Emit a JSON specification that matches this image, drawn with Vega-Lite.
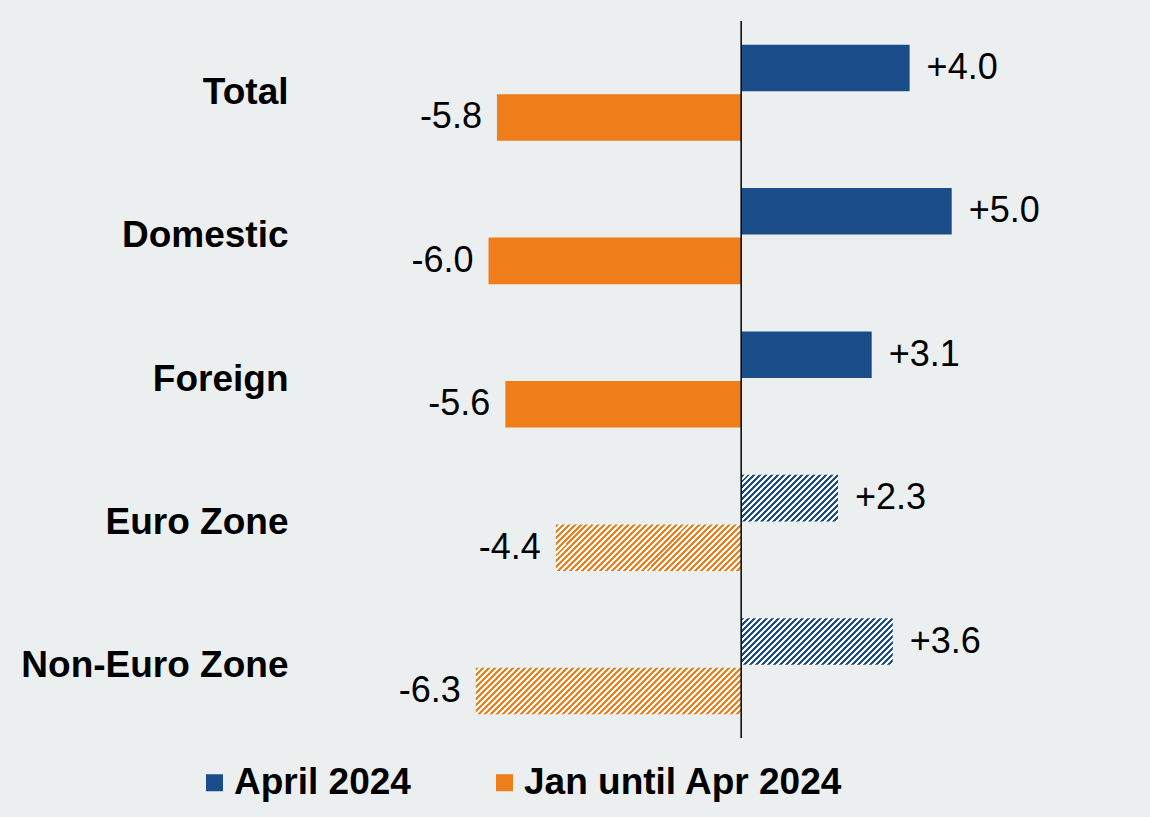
{
"$schema":"https://vega.github.io/schema/vega-lite/v6.json",
"width":758,"height":717,"autosize":"none",
"padding":{"left":299,"top":21,"right":93,"bottom":79},
"background":"#EBEFF0",
"config":{"view":{"stroke":null},"font":"Liberation Sans"},
"data":{"values":[
{"category":"Total","series":"April 2024","value":4.0,"label":"+4.0"},
{"category":"Total","series":"Jan until Apr 2024","value":-5.8,"label":"-5.8"},
{"category":"Domestic","series":"April 2024","value":5.0,"label":"+5.0"},
{"category":"Domestic","series":"Jan until Apr 2024","value":-6.0,"label":"-6.0"},
{"category":"Foreign","series":"April 2024","value":3.1,"label":"+3.1"},
{"category":"Foreign","series":"Jan until Apr 2024","value":-5.6,"label":"-5.6"},
{"category":"Euro Zone","series":"April 2024","value":2.3,"label":"+2.3"},
{"category":"Euro Zone","series":"Jan until Apr 2024","value":-4.4,"label":"-4.4"},
{"category":"Non-Euro Zone","series":"April 2024","value":3.6,"label":"+3.6"},
{"category":"Non-Euro Zone","series":"Jan until Apr 2024","value":-6.3,"label":"-6.3"}
]},
"layer":[
{"encoding":{
"y":{"field":"category","type":"nominal","sort":["Total","Domestic","Foreign","Euro Zone","Non-Euro Zone"],"scale":{"paddingInner":0.33,"paddingOuter":0.165},"axis":{"title":null,"ticks":false,"domain":false,"labelFontSize":37,"labelFontWeight":"bold","labelColor":"#000","labelFont":"Liberation Sans","labelPadding":11,"labelLimit":0}},
"yOffset":{"field":"series","type":"nominal","sort":["April 2024","Jan until Apr 2024"],"scale":{"paddingInner":0.06}},
"x":{"field":"value","type":"quantitative","scale":{"domain":[-10.5,7.5],"nice":false,"zero":false},"axis":null}
},
"layer":[
{"transform":[{"filter":"datum.category!=='Euro Zone' && datum.category!=='Non-Euro Zone'"}],
"mark":{"type":"bar"},
"encoding":{"color":{"field":"series","type":"nominal","scale":{"domain":["April 2024","Jan until Apr 2024"],"range":["#1a4d8a","#ef7d1a"]},
"legend":{"orient":"none","legendX":-103,"legendY":743,"direction":"horizontal","title":null,"symbolType":"square","symbolSize":289,"symbolStrokeWidth":0,"labelFontSize":37,"labelFontWeight":"bold","labelColor":"#000","labelFont":"Liberation Sans","labelOffset":1,"columnPadding":75,"labelLimit":0}}}},
{"transform":[{"filter":"datum.category==='Euro Zone' && datum.series==='April 2024'"}],
"mark":{"type":"bar","fill":{"gradient":"linear","x1":0,"y1":0,"x2":1.2028,"y2":0.5776,"stops":[
{"offset":0,"color":"#1a4d8a"},{"offset":0.0208,"color":"#1a4d8a"},{"offset":0.0208,"color":"#fff"},{"offset":0.0417,"color":"#fff"},
{"offset":0.0417,"color":"#1a4d8a"},{"offset":0.0625,"color":"#1a4d8a"},{"offset":0.0625,"color":"#fff"},{"offset":0.0833,"color":"#fff"},
{"offset":0.0833,"color":"#1a4d8a"},{"offset":0.1042,"color":"#1a4d8a"},{"offset":0.1042,"color":"#fff"},{"offset":0.125,"color":"#fff"},
{"offset":0.125,"color":"#1a4d8a"},{"offset":0.1458,"color":"#1a4d8a"},{"offset":0.1458,"color":"#fff"},{"offset":0.1667,"color":"#fff"},
{"offset":0.1667,"color":"#1a4d8a"},{"offset":0.1875,"color":"#1a4d8a"},{"offset":0.1875,"color":"#fff"},{"offset":0.2083,"color":"#fff"},
{"offset":0.2083,"color":"#1a4d8a"},{"offset":0.2292,"color":"#1a4d8a"},{"offset":0.2292,"color":"#fff"},{"offset":0.25,"color":"#fff"},
{"offset":0.25,"color":"#1a4d8a"},{"offset":0.2708,"color":"#1a4d8a"},{"offset":0.2708,"color":"#fff"},{"offset":0.2917,"color":"#fff"},
{"offset":0.2917,"color":"#1a4d8a"},{"offset":0.3125,"color":"#1a4d8a"},{"offset":0.3125,"color":"#fff"},{"offset":0.3333,"color":"#fff"},
{"offset":0.3333,"color":"#1a4d8a"},{"offset":0.3542,"color":"#1a4d8a"},{"offset":0.3542,"color":"#fff"},{"offset":0.375,"color":"#fff"},
{"offset":0.375,"color":"#1a4d8a"},{"offset":0.3958,"color":"#1a4d8a"},{"offset":0.3958,"color":"#fff"},{"offset":0.4167,"color":"#fff"},
{"offset":0.4167,"color":"#1a4d8a"},{"offset":0.4375,"color":"#1a4d8a"},{"offset":0.4375,"color":"#fff"},{"offset":0.4583,"color":"#fff"},
{"offset":0.4583,"color":"#1a4d8a"},{"offset":0.4792,"color":"#1a4d8a"},{"offset":0.4792,"color":"#fff"},{"offset":0.5,"color":"#fff"},
{"offset":0.5,"color":"#1a4d8a"},{"offset":0.5208,"color":"#1a4d8a"},{"offset":0.5208,"color":"#fff"},{"offset":0.5417,"color":"#fff"},
{"offset":0.5417,"color":"#1a4d8a"},{"offset":0.5625,"color":"#1a4d8a"},{"offset":0.5625,"color":"#fff"},{"offset":0.5833,"color":"#fff"},
{"offset":0.5833,"color":"#1a4d8a"},{"offset":0.6042,"color":"#1a4d8a"},{"offset":0.6042,"color":"#fff"},{"offset":0.625,"color":"#fff"},
{"offset":0.625,"color":"#1a4d8a"},{"offset":0.6458,"color":"#1a4d8a"},{"offset":0.6458,"color":"#fff"},{"offset":0.6667,"color":"#fff"},
{"offset":0.6667,"color":"#1a4d8a"},{"offset":0.6875,"color":"#1a4d8a"},{"offset":0.6875,"color":"#fff"},{"offset":0.7083,"color":"#fff"},
{"offset":0.7083,"color":"#1a4d8a"},{"offset":0.7292,"color":"#1a4d8a"},{"offset":0.7292,"color":"#fff"},{"offset":0.75,"color":"#fff"},
{"offset":0.75,"color":"#1a4d8a"},{"offset":0.7708,"color":"#1a4d8a"},{"offset":0.7708,"color":"#fff"},{"offset":0.7917,"color":"#fff"},
{"offset":0.7917,"color":"#1a4d8a"},{"offset":0.8125,"color":"#1a4d8a"},{"offset":0.8125,"color":"#fff"},{"offset":0.8333,"color":"#fff"},
{"offset":0.8333,"color":"#1a4d8a"},{"offset":0.8542,"color":"#1a4d8a"},{"offset":0.8542,"color":"#fff"},{"offset":0.875,"color":"#fff"},
{"offset":0.875,"color":"#1a4d8a"},{"offset":0.8958,"color":"#1a4d8a"},{"offset":0.8958,"color":"#fff"},{"offset":0.9167,"color":"#fff"},
{"offset":0.9167,"color":"#1a4d8a"},{"offset":0.9375,"color":"#1a4d8a"},{"offset":0.9375,"color":"#fff"},{"offset":0.9583,"color":"#fff"},
{"offset":0.9583,"color":"#1a4d8a"},{"offset":0.9792,"color":"#1a4d8a"},{"offset":0.9792,"color":"#fff"},{"offset":1,"color":"#fff"}
]}}},
{"transform":[{"filter":"datum.category==='Non-Euro Zone' && datum.series==='April 2024'"}],
"mark":{"type":"bar","fill":{"gradient":"linear","x1":0,"y1":0,"x2":1.1944,"y2":0.3665,"stops":[
{"offset":0,"color":"#1a4d8a"},{"offset":0.0152,"color":"#1a4d8a"},{"offset":0.0152,"color":"#fff"},{"offset":0.0303,"color":"#fff"},
{"offset":0.0303,"color":"#1a4d8a"},{"offset":0.0455,"color":"#1a4d8a"},{"offset":0.0455,"color":"#fff"},{"offset":0.0606,"color":"#fff"},
{"offset":0.0606,"color":"#1a4d8a"},{"offset":0.0758,"color":"#1a4d8a"},{"offset":0.0758,"color":"#fff"},{"offset":0.0909,"color":"#fff"},
{"offset":0.0909,"color":"#1a4d8a"},{"offset":0.1061,"color":"#1a4d8a"},{"offset":0.1061,"color":"#fff"},{"offset":0.1212,"color":"#fff"},
{"offset":0.1212,"color":"#1a4d8a"},{"offset":0.1364,"color":"#1a4d8a"},{"offset":0.1364,"color":"#fff"},{"offset":0.1515,"color":"#fff"},
{"offset":0.1515,"color":"#1a4d8a"},{"offset":0.1667,"color":"#1a4d8a"},{"offset":0.1667,"color":"#fff"},{"offset":0.1818,"color":"#fff"},
{"offset":0.1818,"color":"#1a4d8a"},{"offset":0.197,"color":"#1a4d8a"},{"offset":0.197,"color":"#fff"},{"offset":0.2121,"color":"#fff"},
{"offset":0.2121,"color":"#1a4d8a"},{"offset":0.2273,"color":"#1a4d8a"},{"offset":0.2273,"color":"#fff"},{"offset":0.2424,"color":"#fff"},
{"offset":0.2424,"color":"#1a4d8a"},{"offset":0.2576,"color":"#1a4d8a"},{"offset":0.2576,"color":"#fff"},{"offset":0.2727,"color":"#fff"},
{"offset":0.2727,"color":"#1a4d8a"},{"offset":0.2879,"color":"#1a4d8a"},{"offset":0.2879,"color":"#fff"},{"offset":0.303,"color":"#fff"},
{"offset":0.303,"color":"#1a4d8a"},{"offset":0.3182,"color":"#1a4d8a"},{"offset":0.3182,"color":"#fff"},{"offset":0.3333,"color":"#fff"},
{"offset":0.3333,"color":"#1a4d8a"},{"offset":0.3485,"color":"#1a4d8a"},{"offset":0.3485,"color":"#fff"},{"offset":0.3636,"color":"#fff"},
{"offset":0.3636,"color":"#1a4d8a"},{"offset":0.3788,"color":"#1a4d8a"},{"offset":0.3788,"color":"#fff"},{"offset":0.3939,"color":"#fff"},
{"offset":0.3939,"color":"#1a4d8a"},{"offset":0.4091,"color":"#1a4d8a"},{"offset":0.4091,"color":"#fff"},{"offset":0.4242,"color":"#fff"},
{"offset":0.4242,"color":"#1a4d8a"},{"offset":0.4394,"color":"#1a4d8a"},{"offset":0.4394,"color":"#fff"},{"offset":0.4545,"color":"#fff"},
{"offset":0.4545,"color":"#1a4d8a"},{"offset":0.4697,"color":"#1a4d8a"},{"offset":0.4697,"color":"#fff"},{"offset":0.4848,"color":"#fff"},
{"offset":0.4848,"color":"#1a4d8a"},{"offset":0.5,"color":"#1a4d8a"},{"offset":0.5,"color":"#fff"},{"offset":0.5152,"color":"#fff"},
{"offset":0.5152,"color":"#1a4d8a"},{"offset":0.5303,"color":"#1a4d8a"},{"offset":0.5303,"color":"#fff"},{"offset":0.5455,"color":"#fff"},
{"offset":0.5455,"color":"#1a4d8a"},{"offset":0.5606,"color":"#1a4d8a"},{"offset":0.5606,"color":"#fff"},{"offset":0.5758,"color":"#fff"},
{"offset":0.5758,"color":"#1a4d8a"},{"offset":0.5909,"color":"#1a4d8a"},{"offset":0.5909,"color":"#fff"},{"offset":0.6061,"color":"#fff"},
{"offset":0.6061,"color":"#1a4d8a"},{"offset":0.6212,"color":"#1a4d8a"},{"offset":0.6212,"color":"#fff"},{"offset":0.6364,"color":"#fff"},
{"offset":0.6364,"color":"#1a4d8a"},{"offset":0.6515,"color":"#1a4d8a"},{"offset":0.6515,"color":"#fff"},{"offset":0.6667,"color":"#fff"},
{"offset":0.6667,"color":"#1a4d8a"},{"offset":0.6818,"color":"#1a4d8a"},{"offset":0.6818,"color":"#fff"},{"offset":0.697,"color":"#fff"},
{"offset":0.697,"color":"#1a4d8a"},{"offset":0.7121,"color":"#1a4d8a"},{"offset":0.7121,"color":"#fff"},{"offset":0.7273,"color":"#fff"},
{"offset":0.7273,"color":"#1a4d8a"},{"offset":0.7424,"color":"#1a4d8a"},{"offset":0.7424,"color":"#fff"},{"offset":0.7576,"color":"#fff"},
{"offset":0.7576,"color":"#1a4d8a"},{"offset":0.7727,"color":"#1a4d8a"},{"offset":0.7727,"color":"#fff"},{"offset":0.7879,"color":"#fff"},
{"offset":0.7879,"color":"#1a4d8a"},{"offset":0.803,"color":"#1a4d8a"},{"offset":0.803,"color":"#fff"},{"offset":0.8182,"color":"#fff"},
{"offset":0.8182,"color":"#1a4d8a"},{"offset":0.8333,"color":"#1a4d8a"},{"offset":0.8333,"color":"#fff"},{"offset":0.8485,"color":"#fff"},
{"offset":0.8485,"color":"#1a4d8a"},{"offset":0.8636,"color":"#1a4d8a"},{"offset":0.8636,"color":"#fff"},{"offset":0.8788,"color":"#fff"},
{"offset":0.8788,"color":"#1a4d8a"},{"offset":0.8939,"color":"#1a4d8a"},{"offset":0.8939,"color":"#fff"},{"offset":0.9091,"color":"#fff"},
{"offset":0.9091,"color":"#1a4d8a"},{"offset":0.9242,"color":"#1a4d8a"},{"offset":0.9242,"color":"#fff"},{"offset":0.9394,"color":"#fff"},
{"offset":0.9394,"color":"#1a4d8a"},{"offset":0.9545,"color":"#1a4d8a"},{"offset":0.9545,"color":"#fff"},{"offset":0.9697,"color":"#fff"},
{"offset":0.9697,"color":"#1a4d8a"},{"offset":0.9848,"color":"#1a4d8a"},{"offset":0.9848,"color":"#fff"},{"offset":1,"color":"#fff"}
]}}},
{"transform":[{"filter":"datum.category==='Euro Zone' && datum.series==='Jan until Apr 2024'"}],
"mark":{"type":"bar","fill":{"gradient":"linear","x1":0,"y1":0,"x2":1.1769,"y2":0.2954,"stops":[
{"offset":0,"color":"#ef7d1a"},{"offset":0.0128,"color":"#ef7d1a"},{"offset":0.0128,"color":"#fff"},{"offset":0.0256,"color":"#fff"},
{"offset":0.0256,"color":"#ef7d1a"},{"offset":0.0385,"color":"#ef7d1a"},{"offset":0.0385,"color":"#fff"},{"offset":0.0513,"color":"#fff"},
{"offset":0.0513,"color":"#ef7d1a"},{"offset":0.0641,"color":"#ef7d1a"},{"offset":0.0641,"color":"#fff"},{"offset":0.0769,"color":"#fff"},
{"offset":0.0769,"color":"#ef7d1a"},{"offset":0.0897,"color":"#ef7d1a"},{"offset":0.0897,"color":"#fff"},{"offset":0.1026,"color":"#fff"},
{"offset":0.1026,"color":"#ef7d1a"},{"offset":0.1154,"color":"#ef7d1a"},{"offset":0.1154,"color":"#fff"},{"offset":0.1282,"color":"#fff"},
{"offset":0.1282,"color":"#ef7d1a"},{"offset":0.141,"color":"#ef7d1a"},{"offset":0.141,"color":"#fff"},{"offset":0.1538,"color":"#fff"},
{"offset":0.1538,"color":"#ef7d1a"},{"offset":0.1667,"color":"#ef7d1a"},{"offset":0.1667,"color":"#fff"},{"offset":0.1795,"color":"#fff"},
{"offset":0.1795,"color":"#ef7d1a"},{"offset":0.1923,"color":"#ef7d1a"},{"offset":0.1923,"color":"#fff"},{"offset":0.2051,"color":"#fff"},
{"offset":0.2051,"color":"#ef7d1a"},{"offset":0.2179,"color":"#ef7d1a"},{"offset":0.2179,"color":"#fff"},{"offset":0.2308,"color":"#fff"},
{"offset":0.2308,"color":"#ef7d1a"},{"offset":0.2436,"color":"#ef7d1a"},{"offset":0.2436,"color":"#fff"},{"offset":0.2564,"color":"#fff"},
{"offset":0.2564,"color":"#ef7d1a"},{"offset":0.2692,"color":"#ef7d1a"},{"offset":0.2692,"color":"#fff"},{"offset":0.2821,"color":"#fff"},
{"offset":0.2821,"color":"#ef7d1a"},{"offset":0.2949,"color":"#ef7d1a"},{"offset":0.2949,"color":"#fff"},{"offset":0.3077,"color":"#fff"},
{"offset":0.3077,"color":"#ef7d1a"},{"offset":0.3205,"color":"#ef7d1a"},{"offset":0.3205,"color":"#fff"},{"offset":0.3333,"color":"#fff"},
{"offset":0.3333,"color":"#ef7d1a"},{"offset":0.3462,"color":"#ef7d1a"},{"offset":0.3462,"color":"#fff"},{"offset":0.359,"color":"#fff"},
{"offset":0.359,"color":"#ef7d1a"},{"offset":0.3718,"color":"#ef7d1a"},{"offset":0.3718,"color":"#fff"},{"offset":0.3846,"color":"#fff"},
{"offset":0.3846,"color":"#ef7d1a"},{"offset":0.3974,"color":"#ef7d1a"},{"offset":0.3974,"color":"#fff"},{"offset":0.4103,"color":"#fff"},
{"offset":0.4103,"color":"#ef7d1a"},{"offset":0.4231,"color":"#ef7d1a"},{"offset":0.4231,"color":"#fff"},{"offset":0.4359,"color":"#fff"},
{"offset":0.4359,"color":"#ef7d1a"},{"offset":0.4487,"color":"#ef7d1a"},{"offset":0.4487,"color":"#fff"},{"offset":0.4615,"color":"#fff"},
{"offset":0.4615,"color":"#ef7d1a"},{"offset":0.4744,"color":"#ef7d1a"},{"offset":0.4744,"color":"#fff"},{"offset":0.4872,"color":"#fff"},
{"offset":0.4872,"color":"#ef7d1a"},{"offset":0.5,"color":"#ef7d1a"},{"offset":0.5,"color":"#fff"},{"offset":0.5128,"color":"#fff"},
{"offset":0.5128,"color":"#ef7d1a"},{"offset":0.5256,"color":"#ef7d1a"},{"offset":0.5256,"color":"#fff"},{"offset":0.5385,"color":"#fff"},
{"offset":0.5385,"color":"#ef7d1a"},{"offset":0.5513,"color":"#ef7d1a"},{"offset":0.5513,"color":"#fff"},{"offset":0.5641,"color":"#fff"},
{"offset":0.5641,"color":"#ef7d1a"},{"offset":0.5769,"color":"#ef7d1a"},{"offset":0.5769,"color":"#fff"},{"offset":0.5897,"color":"#fff"},
{"offset":0.5897,"color":"#ef7d1a"},{"offset":0.6026,"color":"#ef7d1a"},{"offset":0.6026,"color":"#fff"},{"offset":0.6154,"color":"#fff"},
{"offset":0.6154,"color":"#ef7d1a"},{"offset":0.6282,"color":"#ef7d1a"},{"offset":0.6282,"color":"#fff"},{"offset":0.641,"color":"#fff"},
{"offset":0.641,"color":"#ef7d1a"},{"offset":0.6538,"color":"#ef7d1a"},{"offset":0.6538,"color":"#fff"},{"offset":0.6667,"color":"#fff"},
{"offset":0.6667,"color":"#ef7d1a"},{"offset":0.6795,"color":"#ef7d1a"},{"offset":0.6795,"color":"#fff"},{"offset":0.6923,"color":"#fff"},
{"offset":0.6923,"color":"#ef7d1a"},{"offset":0.7051,"color":"#ef7d1a"},{"offset":0.7051,"color":"#fff"},{"offset":0.7179,"color":"#fff"},
{"offset":0.7179,"color":"#ef7d1a"},{"offset":0.7308,"color":"#ef7d1a"},{"offset":0.7308,"color":"#fff"},{"offset":0.7436,"color":"#fff"},
{"offset":0.7436,"color":"#ef7d1a"},{"offset":0.7564,"color":"#ef7d1a"},{"offset":0.7564,"color":"#fff"},{"offset":0.7692,"color":"#fff"},
{"offset":0.7692,"color":"#ef7d1a"},{"offset":0.7821,"color":"#ef7d1a"},{"offset":0.7821,"color":"#fff"},{"offset":0.7949,"color":"#fff"},
{"offset":0.7949,"color":"#ef7d1a"},{"offset":0.8077,"color":"#ef7d1a"},{"offset":0.8077,"color":"#fff"},{"offset":0.8205,"color":"#fff"},
{"offset":0.8205,"color":"#ef7d1a"},{"offset":0.8333,"color":"#ef7d1a"},{"offset":0.8333,"color":"#fff"},{"offset":0.8462,"color":"#fff"},
{"offset":0.8462,"color":"#ef7d1a"},{"offset":0.859,"color":"#ef7d1a"},{"offset":0.859,"color":"#fff"},{"offset":0.8718,"color":"#fff"},
{"offset":0.8718,"color":"#ef7d1a"},{"offset":0.8846,"color":"#ef7d1a"},{"offset":0.8846,"color":"#fff"},{"offset":0.8974,"color":"#fff"},
{"offset":0.8974,"color":"#ef7d1a"},{"offset":0.9103,"color":"#ef7d1a"},{"offset":0.9103,"color":"#fff"},{"offset":0.9231,"color":"#fff"},
{"offset":0.9231,"color":"#ef7d1a"},{"offset":0.9359,"color":"#ef7d1a"},{"offset":0.9359,"color":"#fff"},{"offset":0.9487,"color":"#fff"},
{"offset":0.9487,"color":"#ef7d1a"},{"offset":0.9615,"color":"#ef7d1a"},{"offset":0.9615,"color":"#fff"},{"offset":0.9744,"color":"#fff"},
{"offset":0.9744,"color":"#ef7d1a"},{"offset":0.9872,"color":"#ef7d1a"},{"offset":0.9872,"color":"#fff"},{"offset":1,"color":"#fff"}
]}}},
{"transform":[{"filter":"datum.category==='Non-Euro Zone' && datum.series==='Jan until Apr 2024'"}],
"mark":{"type":"bar","fill":{"gradient":"linear","x1":0,"y1":0,"x2":1.1403,"y2":0.1999,"stops":[
{"offset":0,"color":"#ef7d1a"},{"offset":0.0096,"color":"#ef7d1a"},{"offset":0.0096,"color":"#fff"},{"offset":0.0192,"color":"#fff"},
{"offset":0.0192,"color":"#ef7d1a"},{"offset":0.0288,"color":"#ef7d1a"},{"offset":0.0288,"color":"#fff"},{"offset":0.0385,"color":"#fff"},
{"offset":0.0385,"color":"#ef7d1a"},{"offset":0.0481,"color":"#ef7d1a"},{"offset":0.0481,"color":"#fff"},{"offset":0.0577,"color":"#fff"},
{"offset":0.0577,"color":"#ef7d1a"},{"offset":0.0673,"color":"#ef7d1a"},{"offset":0.0673,"color":"#fff"},{"offset":0.0769,"color":"#fff"},
{"offset":0.0769,"color":"#ef7d1a"},{"offset":0.0865,"color":"#ef7d1a"},{"offset":0.0865,"color":"#fff"},{"offset":0.0962,"color":"#fff"},
{"offset":0.0962,"color":"#ef7d1a"},{"offset":0.1058,"color":"#ef7d1a"},{"offset":0.1058,"color":"#fff"},{"offset":0.1154,"color":"#fff"},
{"offset":0.1154,"color":"#ef7d1a"},{"offset":0.125,"color":"#ef7d1a"},{"offset":0.125,"color":"#fff"},{"offset":0.1346,"color":"#fff"},
{"offset":0.1346,"color":"#ef7d1a"},{"offset":0.1442,"color":"#ef7d1a"},{"offset":0.1442,"color":"#fff"},{"offset":0.1538,"color":"#fff"},
{"offset":0.1538,"color":"#ef7d1a"},{"offset":0.1635,"color":"#ef7d1a"},{"offset":0.1635,"color":"#fff"},{"offset":0.1731,"color":"#fff"},
{"offset":0.1731,"color":"#ef7d1a"},{"offset":0.1827,"color":"#ef7d1a"},{"offset":0.1827,"color":"#fff"},{"offset":0.1923,"color":"#fff"},
{"offset":0.1923,"color":"#ef7d1a"},{"offset":0.2019,"color":"#ef7d1a"},{"offset":0.2019,"color":"#fff"},{"offset":0.2115,"color":"#fff"},
{"offset":0.2115,"color":"#ef7d1a"},{"offset":0.2212,"color":"#ef7d1a"},{"offset":0.2212,"color":"#fff"},{"offset":0.2308,"color":"#fff"},
{"offset":0.2308,"color":"#ef7d1a"},{"offset":0.2404,"color":"#ef7d1a"},{"offset":0.2404,"color":"#fff"},{"offset":0.25,"color":"#fff"},
{"offset":0.25,"color":"#ef7d1a"},{"offset":0.2596,"color":"#ef7d1a"},{"offset":0.2596,"color":"#fff"},{"offset":0.2692,"color":"#fff"},
{"offset":0.2692,"color":"#ef7d1a"},{"offset":0.2788,"color":"#ef7d1a"},{"offset":0.2788,"color":"#fff"},{"offset":0.2885,"color":"#fff"},
{"offset":0.2885,"color":"#ef7d1a"},{"offset":0.2981,"color":"#ef7d1a"},{"offset":0.2981,"color":"#fff"},{"offset":0.3077,"color":"#fff"},
{"offset":0.3077,"color":"#ef7d1a"},{"offset":0.3173,"color":"#ef7d1a"},{"offset":0.3173,"color":"#fff"},{"offset":0.3269,"color":"#fff"},
{"offset":0.3269,"color":"#ef7d1a"},{"offset":0.3365,"color":"#ef7d1a"},{"offset":0.3365,"color":"#fff"},{"offset":0.3462,"color":"#fff"},
{"offset":0.3462,"color":"#ef7d1a"},{"offset":0.3558,"color":"#ef7d1a"},{"offset":0.3558,"color":"#fff"},{"offset":0.3654,"color":"#fff"},
{"offset":0.3654,"color":"#ef7d1a"},{"offset":0.375,"color":"#ef7d1a"},{"offset":0.375,"color":"#fff"},{"offset":0.3846,"color":"#fff"},
{"offset":0.3846,"color":"#ef7d1a"},{"offset":0.3942,"color":"#ef7d1a"},{"offset":0.3942,"color":"#fff"},{"offset":0.4038,"color":"#fff"},
{"offset":0.4038,"color":"#ef7d1a"},{"offset":0.4135,"color":"#ef7d1a"},{"offset":0.4135,"color":"#fff"},{"offset":0.4231,"color":"#fff"},
{"offset":0.4231,"color":"#ef7d1a"},{"offset":0.4327,"color":"#ef7d1a"},{"offset":0.4327,"color":"#fff"},{"offset":0.4423,"color":"#fff"},
{"offset":0.4423,"color":"#ef7d1a"},{"offset":0.4519,"color":"#ef7d1a"},{"offset":0.4519,"color":"#fff"},{"offset":0.4615,"color":"#fff"},
{"offset":0.4615,"color":"#ef7d1a"},{"offset":0.4712,"color":"#ef7d1a"},{"offset":0.4712,"color":"#fff"},{"offset":0.4808,"color":"#fff"},
{"offset":0.4808,"color":"#ef7d1a"},{"offset":0.4904,"color":"#ef7d1a"},{"offset":0.4904,"color":"#fff"},{"offset":0.5,"color":"#fff"},
{"offset":0.5,"color":"#ef7d1a"},{"offset":0.5096,"color":"#ef7d1a"},{"offset":0.5096,"color":"#fff"},{"offset":0.5192,"color":"#fff"},
{"offset":0.5192,"color":"#ef7d1a"},{"offset":0.5288,"color":"#ef7d1a"},{"offset":0.5288,"color":"#fff"},{"offset":0.5385,"color":"#fff"},
{"offset":0.5385,"color":"#ef7d1a"},{"offset":0.5481,"color":"#ef7d1a"},{"offset":0.5481,"color":"#fff"},{"offset":0.5577,"color":"#fff"},
{"offset":0.5577,"color":"#ef7d1a"},{"offset":0.5673,"color":"#ef7d1a"},{"offset":0.5673,"color":"#fff"},{"offset":0.5769,"color":"#fff"},
{"offset":0.5769,"color":"#ef7d1a"},{"offset":0.5865,"color":"#ef7d1a"},{"offset":0.5865,"color":"#fff"},{"offset":0.5962,"color":"#fff"},
{"offset":0.5962,"color":"#ef7d1a"},{"offset":0.6058,"color":"#ef7d1a"},{"offset":0.6058,"color":"#fff"},{"offset":0.6154,"color":"#fff"},
{"offset":0.6154,"color":"#ef7d1a"},{"offset":0.625,"color":"#ef7d1a"},{"offset":0.625,"color":"#fff"},{"offset":0.6346,"color":"#fff"},
{"offset":0.6346,"color":"#ef7d1a"},{"offset":0.6442,"color":"#ef7d1a"},{"offset":0.6442,"color":"#fff"},{"offset":0.6538,"color":"#fff"},
{"offset":0.6538,"color":"#ef7d1a"},{"offset":0.6635,"color":"#ef7d1a"},{"offset":0.6635,"color":"#fff"},{"offset":0.6731,"color":"#fff"},
{"offset":0.6731,"color":"#ef7d1a"},{"offset":0.6827,"color":"#ef7d1a"},{"offset":0.6827,"color":"#fff"},{"offset":0.6923,"color":"#fff"},
{"offset":0.6923,"color":"#ef7d1a"},{"offset":0.7019,"color":"#ef7d1a"},{"offset":0.7019,"color":"#fff"},{"offset":0.7115,"color":"#fff"},
{"offset":0.7115,"color":"#ef7d1a"},{"offset":0.7212,"color":"#ef7d1a"},{"offset":0.7212,"color":"#fff"},{"offset":0.7308,"color":"#fff"},
{"offset":0.7308,"color":"#ef7d1a"},{"offset":0.7404,"color":"#ef7d1a"},{"offset":0.7404,"color":"#fff"},{"offset":0.75,"color":"#fff"},
{"offset":0.75,"color":"#ef7d1a"},{"offset":0.7596,"color":"#ef7d1a"},{"offset":0.7596,"color":"#fff"},{"offset":0.7692,"color":"#fff"},
{"offset":0.7692,"color":"#ef7d1a"},{"offset":0.7788,"color":"#ef7d1a"},{"offset":0.7788,"color":"#fff"},{"offset":0.7885,"color":"#fff"},
{"offset":0.7885,"color":"#ef7d1a"},{"offset":0.7981,"color":"#ef7d1a"},{"offset":0.7981,"color":"#fff"},{"offset":0.8077,"color":"#fff"},
{"offset":0.8077,"color":"#ef7d1a"},{"offset":0.8173,"color":"#ef7d1a"},{"offset":0.8173,"color":"#fff"},{"offset":0.8269,"color":"#fff"},
{"offset":0.8269,"color":"#ef7d1a"},{"offset":0.8365,"color":"#ef7d1a"},{"offset":0.8365,"color":"#fff"},{"offset":0.8462,"color":"#fff"},
{"offset":0.8462,"color":"#ef7d1a"},{"offset":0.8558,"color":"#ef7d1a"},{"offset":0.8558,"color":"#fff"},{"offset":0.8654,"color":"#fff"},
{"offset":0.8654,"color":"#ef7d1a"},{"offset":0.875,"color":"#ef7d1a"},{"offset":0.875,"color":"#fff"},{"offset":0.8846,"color":"#fff"},
{"offset":0.8846,"color":"#ef7d1a"},{"offset":0.8942,"color":"#ef7d1a"},{"offset":0.8942,"color":"#fff"},{"offset":0.9038,"color":"#fff"},
{"offset":0.9038,"color":"#ef7d1a"},{"offset":0.9135,"color":"#ef7d1a"},{"offset":0.9135,"color":"#fff"},{"offset":0.9231,"color":"#fff"},
{"offset":0.9231,"color":"#ef7d1a"},{"offset":0.9327,"color":"#ef7d1a"},{"offset":0.9327,"color":"#fff"},{"offset":0.9423,"color":"#fff"},
{"offset":0.9423,"color":"#ef7d1a"},{"offset":0.9519,"color":"#ef7d1a"},{"offset":0.9519,"color":"#fff"},{"offset":0.9615,"color":"#fff"},
{"offset":0.9615,"color":"#ef7d1a"},{"offset":0.9712,"color":"#ef7d1a"},{"offset":0.9712,"color":"#fff"},{"offset":0.9808,"color":"#fff"},
{"offset":0.9808,"color":"#ef7d1a"},{"offset":0.9904,"color":"#ef7d1a"},{"offset":0.9904,"color":"#fff"},{"offset":1,"color":"#fff"}
]}}},
{"transform":[{"filter":"datum.value > 0"}],
"mark":{"type":"text","align":"left","baseline":"middle","dx":17,"fontSize":36,"font":"Liberation Sans","color":"#000"},
"encoding":{"text":{"field":"label"}}},
{"transform":[{"filter":"datum.value < 0"}],
"mark":{"type":"text","align":"right","baseline":"middle","dx":-15,"fontSize":36,"font":"Liberation Sans","color":"#000"},
"encoding":{"text":{"field":"label"}}}
]},
{"data":{"values":[{}]},
"mark":{"type":"rule","color":"#000","strokeWidth":1.5},
"encoding":{"x":{"datum":0}}}
]
}
